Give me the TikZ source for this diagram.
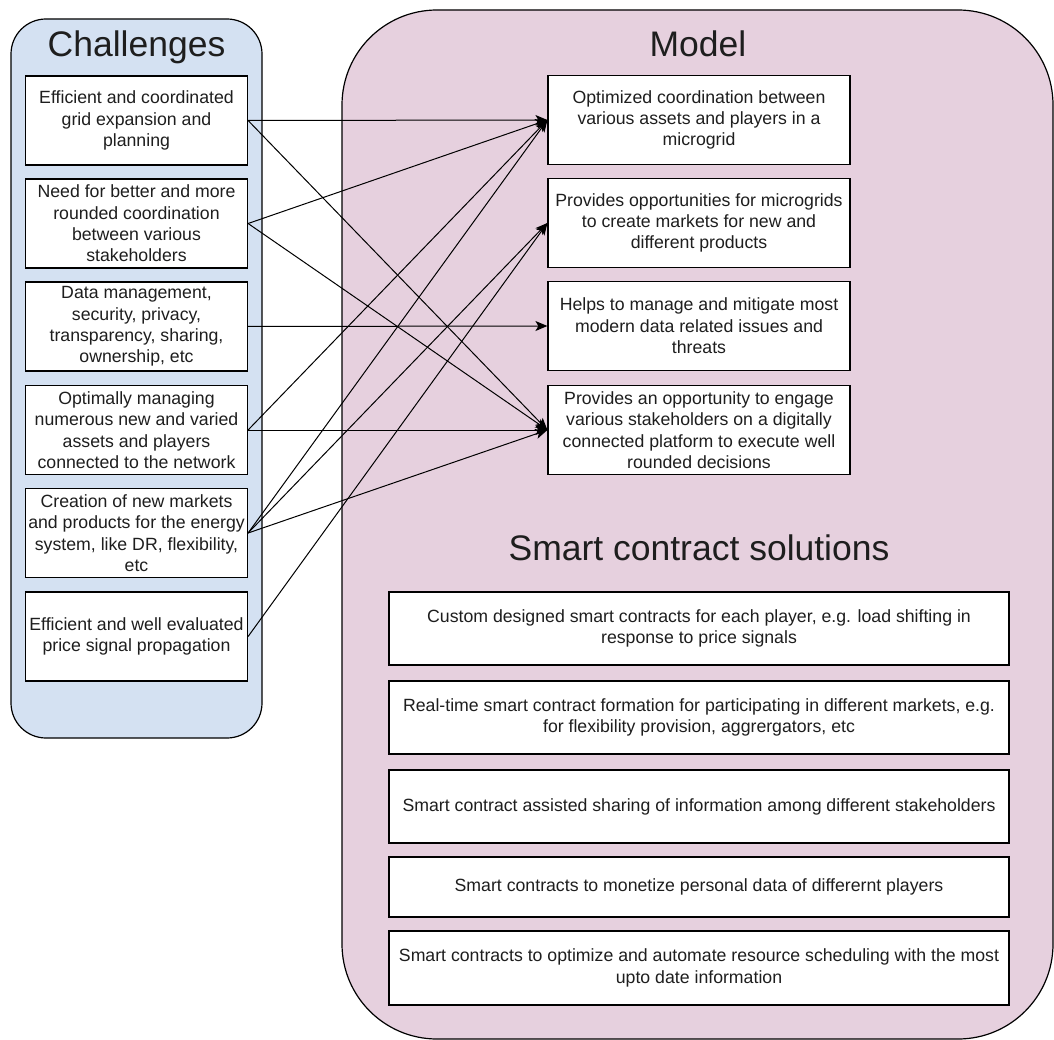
\documentclass[tikz,border=0pt]{standalone}
\usepackage{fontspec}
\setmainfont{Liberation Sans}
\usetikzlibrary{arrows.meta}
\definecolor{bluefill}{RGB}{212,225,242}
\definecolor{pinkfill}{RGB}{230,208,222}
\definecolor{txt}{RGB}{30,30,30}
\begin{document}
\begin{tikzpicture}[x=1pt,y=-1pt,
  box/.style={draw=black, fill=white, line width=1.2pt, align=center, text=txt, font=\fontsize{17.7}{21.4}\selectfont, inner sep=0pt},
  cbox/.style={box, minimum width=222pt, minimum height=89pt},
  mbox/.style={box, minimum width=302pt, minimum height=89pt},
  sbox/.style={box, minimum width=620pt},
  cont/.style={draw=black, line width=1.2pt, inner sep=0pt},
  ttl/.style={text=txt, font=\fontsize{35.5}{40}\selectfont, anchor=base, inner sep=0pt},
  arr/.style={draw=black, line width=1pt, -{Stealth[length=12pt,width=10pt,inset=3pt]}}
]
\useasboundingbox (0,0) rectangle (1054,1040);

% containers
\node[cont, fill=bluefill, minimum width=251pt, minimum height=719pt, rounded corners=35pt] (chal) at (136.5,378.5) {};
\node[cont, fill=pinkfill, minimum width=711pt, minimum height=1029pt, rounded corners=95pt] (model) at (697.5,524.5) {};

% titles
\node[ttl] (tchal) at (136.5,57) {Challenges};
\node[ttl] (tmodel) at (698,57) {Model};
\node[ttl] (tsmart) at (699,560) {Smart contract solutions};

% challenge boxes
\node[cbox] (c1) at (136.5,120.5) {Efficient and coordinated\\grid expansion and\\planning};
\node[cbox] (c2) at (136.5,223.5) {Need for better and more\\rounded coordination\\between various\\stakeholders};
\node[cbox] (c3) at (136.5,326.5) {Data management,\\security, privacy,\\transparency, sharing,\\ownership, etc};
\node[cbox] (c4) at (136.5,430) {Optimally managing\\numerous new and varied\\assets and players\\connected to the network};
\node[cbox] (c5) at (136.5,533) {Creation of new markets\\and products for the energy\\system, like DR, flexibility,\\etc};
\node[cbox] (c6) at (136.5,636.5) {Efficient and well evaluated\\price signal propagation};

% model boxes
\node[mbox] (m1) at (699,120) {Optimized coordination between\\various assets and players in a\\microgrid};
\node[mbox] (m2) at (699,223) {Provides opportunities for microgrids\\to create markets for new and\\different products};
\node[mbox] (m3) at (699,326) {Helps to manage and mitigate most\\modern data related issues and\\threats};
\node[mbox] (m4) at (699,430) {Provides an opportunity to engage\\various stakeholders on a digitally\\connected platform to execute well\\rounded decisions};

% smart contract boxes
\node[sbox, minimum height=73pt] (s1) at (699,628.5) {Custom designed smart contracts for each player, e.g. load shifting in\\response to price signals};
\node[sbox, minimum height=73pt] (s2) at (699,717.5) {Real-time smart contract formation for participating in different markets, e.g.\\for flexibility provision, aggrergators, etc};
\node[sbox, minimum height=73pt] (s3) at (699,806.5) {Smart contract assisted sharing of information among different stakeholders};
\node[sbox, minimum height=60pt] (s4) at (699,887) {Smart contracts to monetize personal data of differernt players};
\node[sbox, minimum height=74pt] (s5) at (699,968) {Smart contracts to optimize and automate resource scheduling with the most\\upto date information};

% connectors
\draw[arr] (c1.east) -- (m1.west);
\draw[arr] (c1.east) -- (m4.west);
\draw[arr] (c2.east) -- (m1.west);
\draw[arr] (c2.east) -- (m4.west);
\draw[arr] (c3.east) -- (m3.west);
\draw[arr] (c4.east) -- (m1.west);
\draw[arr] (c4.east) -- (m4.west);
\draw[arr] (c5.east) -- (m1.west);
\draw[arr] (c5.east) -- (m2.west);
\draw[arr] (c5.east) -- (m4.west);
\draw[arr] (c6.east) -- (m2.west);
\end{tikzpicture}
\end{document}
